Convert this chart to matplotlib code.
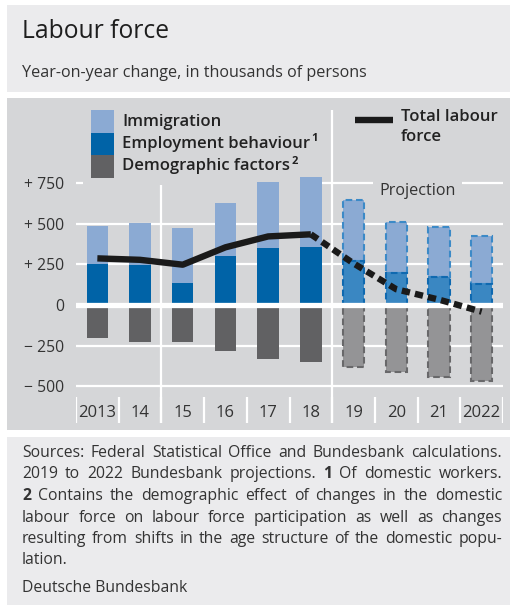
import matplotlib
matplotlib.use('Agg')
import matplotlib.pyplot as plt
import matplotlib.transforms as mtransforms
from matplotlib.patches import Rectangle
import numpy as np

# ---------------- data ----------------
years = ['2013', '14', '15', '16', '17', '18', '19', '20', '21', '2022']
immigration = [236, 260, 339, 323, 402, 431, 373, 318, 304, 298]
employment = [252, 246, 137, 303, 353, 355, 273, 195, 174, 127]
demographic = [-201, -228, -226, -281, -332, -351, -380, -414, -441, -466]
total = [287, 278, 248, 355, 422, 435, 256, 97, 33, -41]
first_projection = 6
yticks = [750, 500, 250, 0, -250, -500]
ytick_labels = ['+ 750', '+ 500', '+ 250', '0', '\u2212 250', '\u2212 500']

title = 'Labour force'
subtitle = 'Year-on-year change, in thousands of persons'
legend_labels = ['Immigration', 'Employment behaviour', 'Demographic factors']
legend_marks = ['', '1', '2']
line_label = ['Total labour', 'force']
footnote_lines = [
    'Sources: Federal Statistical Office and Bundesbank calculations.',
    '2019 to 2022 Bundesbank projections. **1** Of domestic workers.',
    '**2** Contains the demographic effect of changes in the domestic',
    'labour force on labour force participation as well as changes',
    'resulting from shifts in the age structure of the domestic popu-',
    'lation.',
]
source = 'Deutsche Bundesbank'

# ---------------- style ----------------
FONT = ['Open Sans', 'DejaVu Sans']
plt.rcParams['font.family'] = FONT
LIGHT = '#8BAAD3'
DARK = '#0063A7'
GRAY = '#616163'
P_LIGHT_EDGE = '#3C8AC7'
P_DARK = '#3A87C2'
P_DARK_EDGE = '#0F69B0'
P_GRAY = '#949496'
P_GRAY_EDGE = '#68686A'
HEAD_BG = '#EBEBED'
PANEL_BG = '#D5D6D8'
TXT = '#333333'
LEG_TXT = '#222222'

W, H = 512, 606
fig = plt.figure(figsize=(W / 100, H / 100), dpi=100)
fig.patch.set_facecolor('white')
pxT = mtransforms.Affine2D().scale(1 / W, -1 / H).translate(0, 1) + fig.transFigure
renderer = fig.canvas.get_renderer()

# panels
for (x0, y0, w, h, c) in [(7, 5, 503, 87, HEAD_BG), (7, 98, 503, 332, PANEL_BG),
                          (7, 437, 503, 168, HEAD_BG)]:
    fig.add_artist(Rectangle((x0, y0), w, h, transform=pxT, facecolor=c,
                             edgecolor='none', zorder=0))

fig.text(22, 31, title, transform=pxT, fontsize=17.7, color='#1e1e1e', va='center', ha='left')
fig.text(22, 73, subtitle, transform=pxT, fontsize=11.6, color=TXT, va='center', ha='left')

# ---------------- axes ----------------
k = 0.1625  # px per unit
ax = fig.add_axes([76 / W, 1 - 425 / H, 427 / W, (425 - 108) / H])
ax.set_facecolor('none')
ax.set_xlim(-0.5, 9.5)
ax.set_ylim((305 - 425) / k, (305 - 108) / k)
for s in ax.spines.values():
    s.set_visible(False)
ax.set_xticks([])
ax.set_yticks(yticks)
ax.set_yticklabels(ytick_labels)
ax.tick_params(axis='y', length=0, pad=8.5, labelsize=11.3, labelcolor=TXT)

x = np.arange(len(years))
for v in yticks:
    if v != 0:
        ax.axhline(v, color='white', lw=1.6, zorder=1)
ax.axhline(0, color='white', lw=3.8, zorder=3)

# cover box behind legend
ax.add_patch(Rectangle((83, 99), 239, 85.5, transform=pxT, facecolor=PANEL_BG,
                       edgecolor='none', zorder=1.5, clip_on=False))

# category separators in label strip
sep_bot, sep_top = (305 - 423) / k, (305 - 397) / k
for b in np.arange(-0.5, len(years)):
    ax.plot([b, b], [sep_bot, sep_top], color='white', lw=1.6, zorder=1, solid_capstyle='butt')
ax.plot([1.5, 1.5], [sep_bot, 750], color='white', lw=1.6, zorder=1, solid_capstyle='butt')
ax.plot([5.5, 5.5], [sep_bot, (305 - 110) / k], color='white', lw=1.6, zorder=1,
        solid_capstyle='butt', clip_on=False)

for i, lab in enumerate(years):
    ax.text(i, (305 - 413) / k, lab, ha='center', va='center', fontsize=12, color=TXT)

# bars
bw = 0.5
hi = slice(0, first_projection)
pr = slice(first_projection, None)
emp = np.array(employment)
imm = np.array(immigration)
dem = np.array(demographic)
ax.bar(x[hi], emp[hi], bw, color=DARK, zorder=2)
ax.bar(x[hi], imm[hi], bw, bottom=emp[hi], color=LIGHT, zorder=2)
ax.bar(x[hi], dem[hi], bw, color=GRAY, zorder=2)
ds = (0, (3.2, 1.8))
ax.bar(x[pr], imm[pr], bw, bottom=emp[pr], color=LIGHT, edgecolor=P_LIGHT_EDGE,
       linestyle=ds, linewidth=1.5, zorder=2)
ax.bar(x[pr], emp[pr], bw, color=P_DARK, edgecolor=P_DARK_EDGE, linestyle=ds,
       linewidth=1.5, zorder=2.1)
ax.bar(x[pr], dem[pr], bw, color=P_GRAY, edgecolor=P_GRAY_EDGE, linestyle=ds,
       linewidth=1.5, zorder=2)

tot = np.array(total)
ax.plot(x[:first_projection], tot[:first_projection], color='#1a1a1a', lw=4.6,
        solid_capstyle='butt', solid_joinstyle='round', zorder=4)
ax.plot(x[first_projection - 1:], tot[first_projection - 1:], color='#1a1a1a', lw=4.6,
        linestyle=(0, (1.3, 0.8)), dash_capstyle='butt', zorder=4)

ax.text(7.5, (305 - 191) / k, 'Projection', ha='center', va='center', fontsize=11.6,
        color=TXT, zorder=3,
        bbox=dict(boxstyle='square,pad=0.4', facecolor=PANEL_BG, edgecolor='none'))

# legend
rows = [(110, LIGHT), (132.5, DARK), (155, GRAY)]
for (ytop, c), lab, mk in zip(rows, legend_labels, legend_marks):
    fig.add_artist(Rectangle((91, ytop), 23, 22.7, transform=pxT, facecolor=c,
                             edgecolor='none', zorder=5))
    t = fig.text(122, ytop + 11.5, lab, transform=pxT, fontsize=12, fontweight='semibold',
                 color=LEG_TXT, va='center', ha='left', zorder=5)
    if mk:
        wpx = t.get_window_extent(renderer).width
        fig.text(122 + wpx + 1.5, ytop + 6, mk, transform=pxT, fontsize=8,
                 fontweight='bold', color=LEG_TXT, va='center', ha='left', zorder=5)
fig.add_artist(plt.Line2D([355, 393], [119.5, 119.5], transform=pxT, color='#1a1a1a',
                          lw=4.6, solid_capstyle='butt', zorder=5))
fig.text(401, 117, line_label[0], transform=pxT, fontsize=12, fontweight='semibold',
         color=LEG_TXT, va='center', ha='left')
fig.text(401, 137, line_label[1], transform=pxT, fontsize=12, fontweight='semibold',
         color=LEG_TXT, va='center', ha='left')

# ---------------- footnote (justified) ----------------
FS = 11.3
left, right = 22, 502


def measure(s, bold=False):
    t = fig.text(0, 0, s, transform=pxT, fontsize=FS,
                 fontweight='bold' if bold else 'normal')
    w = t.get_window_extent(renderer).width
    t.remove()
    return w


space_w = measure('a a') - measure('aa')
y0 = 453
for li, line in enumerate(footnote_lines):
    y = y0 + li * 21.5
    words = []
    for wd in line.split(' '):
        bold = wd.startswith('**') and wd.endswith('**')
        words.append((wd.strip('*'), bold))
    widths = [measure(w, b) for w, b in words]
    justify = li < len(footnote_lines) - 1 and len(words) > 1
    gap = (right - left - sum(widths)) / (len(words) - 1) if justify else space_w
    xx = left
    for (w, b), ww in zip(words, widths):
        fig.text(xx, y, w, transform=pxT, fontsize=FS, color=TXT,
                 fontweight='bold' if b else 'normal', va='center', ha='left')
        xx += ww + gap

fig.text(22, 588, source, transform=pxT, fontsize=FS, color=TXT, va='center', ha='left')

fig.savefig('out.png', dpi=100, facecolor='white')
